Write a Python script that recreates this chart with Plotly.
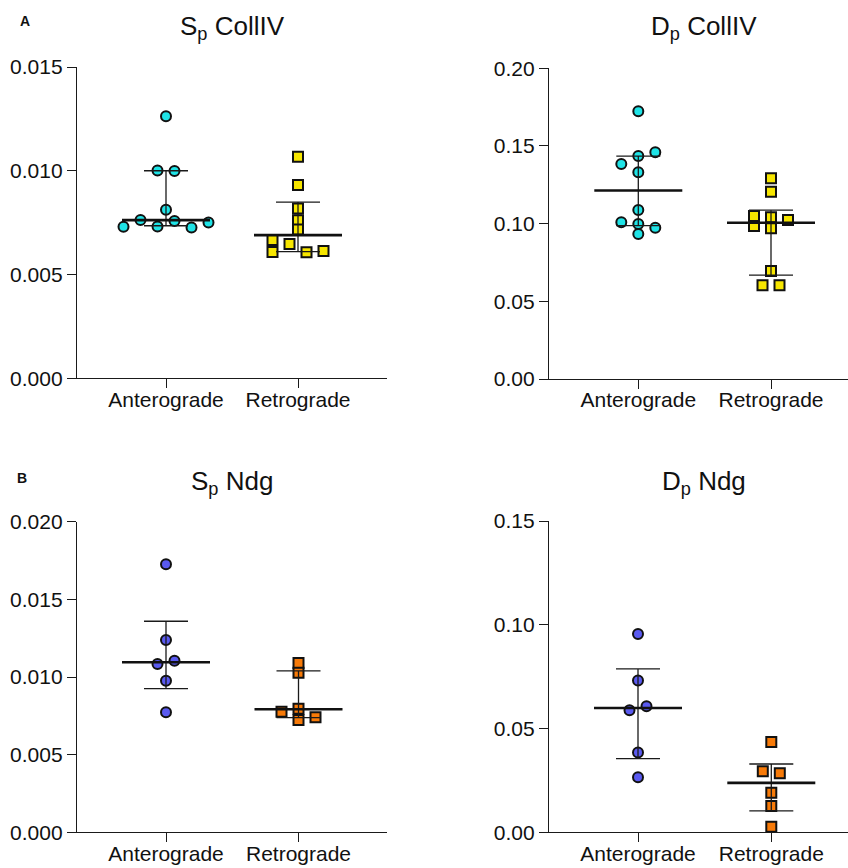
import plotly.graph_objects as go

W, H = 848, 868
FONT = "Liberation Sans, Arial, sans-serif"

# ---------------- data ----------------
categories = ["Anterograde", "Retrograde"]
titles = ["S<sub>p</sub> CollIV", "D<sub>p</sub> CollIV", "S<sub>p</sub> Ndg", "D<sub>p</sub> Ndg"]
panel_letters = ["A", "B"]

sp_coll_ant = [0.01263, 0.00999, 0.01001, 0.00812, 0.00758, 0.00732, 0.00727, 0.00763, 0.00751, 0.00730]
sp_coll_ret = [0.01067, 0.00931, 0.00818, 0.00762, 0.00717, 0.00647, 0.00666, 0.00607, 0.00609, 0.00613]
sp_coll_median = [0.00762, 0.00690]
sp_coll_q1 = [0.00735, 0.00610]
sp_coll_q3 = [0.01000, 0.00849]

dp_coll_ant = [0.1723, 0.1435, 0.1384, 0.1459, 0.1331, 0.1088, 0.0998, 0.1009, 0.0974, 0.0933]
dp_coll_ret = [0.1292, 0.1206, 0.1041, 0.0970, 0.0985, 0.1023, 0.1049, 0.0695, 0.0603, 0.0604]
dp_coll_median = [0.1213, 0.1006]
dp_coll_q1 = [0.0987, 0.0669]
dp_coll_q3 = [0.1435, 0.1087]

sp_ndg_ant = [0.01726, 0.01238, 0.01105, 0.01084, 0.00976, 0.00773]
sp_ndg_ret = [0.01090, 0.01028, 0.00796, 0.00777, 0.00741, 0.00723]
sp_ndg_median = [0.01095, 0.00792]
sp_ndg_q1 = [0.00925, 0.00738]
sp_ndg_q3 = [0.01359, 0.01039]

dp_ndg_ant = [0.0956, 0.0731, 0.0607, 0.0588, 0.0385, 0.0265]
dp_ndg_ret = [0.0435, 0.0284, 0.0294, 0.0191, 0.0127, 0.0027]
dp_ndg_median = [0.0599, 0.0238]
dp_ndg_q1 = [0.0355, 0.0103]
dp_ndg_q3 = [0.0787, 0.0329]

y_max = [0.015, 0.20, 0.020, 0.15]
y_dtick = [0.005, 0.05, 0.005, 0.05]
y_format = [".3f", ".2f", ".3f", ".2f"]

# ---------------- styles / layout ----------------
CYAN = "#1fe3e6"
YELLOW = "#f7e600"
BLUE = "#5a5af0"
ORANGE = "#f77a08"

# pixel geometry of each panel: x0, x1 (axis extent), ytop, ybot, category centres
geom = [
    dict(x0=77, x1=387, ytop=67, ybot=378.3, c0=166, c1=298),
    dict(x0=549, x1=848, ytop=68.3, ybot=379, c0=638.3, c1=771),
    dict(x0=77, x1=387, ytop=521.7, ybot=832.3, c0=166, c1=298.5),
    dict(x0=549, x1=848, ytop=521, ybot=832.3, c0=638, c1=771.3),
]

panels = [
    (sp_coll_ant, sp_coll_ret, sp_coll_median, sp_coll_q1, sp_coll_q3, (CYAN, YELLOW)),
    (dp_coll_ant, dp_coll_ret, dp_coll_median, dp_coll_q1, dp_coll_q3, (CYAN, YELLOW)),
    (sp_ndg_ant, sp_ndg_ret, sp_ndg_median, sp_ndg_q1, sp_ndg_q3, (BLUE, ORANGE)),
    (dp_ndg_ant, dp_ndg_ret, dp_ndg_median, dp_ndg_q1, dp_ndg_q3, (BLUE, ORANGE)),
]

SPACING_PX = 17.0   # horizontal slot spacing of the dot swarm
DY_PX = 8.9         # vertical collision distance


def swarm(values, ypx_per_unit):
    """Column-scatter layout: place points in horizontal slots avoiding overlap,
    then centre each cluster of touching points. Returns offsets in slot units."""
    ys = [v * ypx_per_unit for v in values]
    slots = []
    for i, y in enumerate(ys):
        placed = None
        m = 0
        while placed is None:
            cands = [0] if m == 0 else [-m, m]
            free = []
            for k in cands:
                ok = True
                for j in range(i):
                    if slots[j] == k and abs(ys[j] - y) < DY_PX:
                        ok = False
                        break
                if ok:
                    free.append(k)
            if len(free) == 1:
                placed = free[0]
            elif len(free) == 2:
                left = sum(1 for j in range(i) if slots[j] < 0 and abs(ys[j] - y) < 2 * DY_PX)
                right = sum(1 for j in range(i) if slots[j] > 0 and abs(ys[j] - y) < 2 * DY_PX)
                placed = -m if left <= right else m
            m += 1
        slots.append(float(placed))
    n = len(ys)
    parent = list(range(n))

    def find(a):
        while parent[a] != a:
            parent[a] = parent[parent[a]]
            a = parent[a]
        return a

    for i in range(n):
        for j in range(i + 1, n):
            if abs(ys[i] - ys[j]) < DY_PX:
                parent[find(i)] = find(j)
    comps = {}
    for i in range(n):
        comps.setdefault(find(i), []).append(i)
    for members in comps.values():
        s = [slots[i] for i in members]
        shift = -(min(s) + max(s)) / 2.0
        for i in members:
            slots[i] += shift
    return slots


fig = go.Figure()
layout = dict(
    width=W, height=H,
    margin=dict(l=0, r=0, t=0, b=0, autoexpand=False),
    paper_bgcolor="white", plot_bgcolor="white",
    showlegend=False,
    font=dict(family=FONT, color="#111111"),
)
annotations = []

for p, (g, (ant, ret, med, q1, q3, colors)) in enumerate(zip(geom, panels)):
    sfx = "" if p == 0 else str(p + 1)
    unit = g["c1"] - g["c0"]
    xr0 = -(g["c0"] - g["x0"]) / unit
    xr1 = 1 + (g["x1"] - g["c1"]) / unit
    xpx = unit  # px per x unit
    ypx = (g["ybot"] - g["ytop"]) / y_max[p]

    layout["xaxis" + sfx] = dict(
        domain=[g["x0"] / W, g["x1"] / W], range=[xr0, xr1], anchor="y" + sfx,
        tickmode="array", tickvals=[0, 1], ticktext=categories,
        showline=True, linecolor="#1a1a1a", linewidth=1.3,
        ticks="outside", ticklen=9, tickwidth=1.3, tickcolor="#1a1a1a",
        ticklabelstandoff=-7,
        showgrid=False, zeroline=False, automargin=False,
        tickfont=dict(family=FONT, size=21, color="#111111"),
    )
    layout["yaxis" + sfx] = dict(
        domain=[(H - g["ybot"]) / H, (H - g["ytop"]) / H], range=[0, y_max[p]], anchor="x" + sfx,
        tickmode="linear", tick0=0, dtick=y_dtick[p], tickformat=y_format[p],
        showline=True, linecolor="#1a1a1a", linewidth=1.3,
        ticks="outside", ticklen=9, tickwidth=1.3, tickcolor="#1a1a1a",
        showgrid=False, zeroline=False, automargin=False,
        tickfont=dict(family=FONT, size=21, color="#111111"),
    )

    for ci, (vals, col, sym) in enumerate([(ant, colors[0], "circle"), (ret, colors[1], "square")]):
        offs = swarm(vals, ypx)
        xs = [ci + o * SPACING_PX / xpx for o in offs]
        fig.add_trace(go.Scatter(
            x=xs, y=vals, mode="markers", xaxis="x" + sfx, yaxis="y" + sfx,
            marker=dict(symbol=sym, size=10, color=col, line=dict(color="#111111", width=2)),
            hoverinfo="y",
        ))

    # median + interquartile range
    mh = 44 / xpx
    ch = 22 / xpx
    ex, ey = [], []
    mx, my = [], []
    for ci in range(2):
        mx += [ci - mh, ci + mh, None]
        my += [med[ci], med[ci], None]
        ex += [ci - ch, ci + ch, None, ci - ch, ci + ch, None, ci, ci, None]
        ey += [q3[ci], q3[ci], None, q1[ci], q1[ci], None, q1[ci], q3[ci], None]
    fig.add_trace(go.Scatter(x=ex, y=ey, mode="lines", xaxis="x" + sfx, yaxis="y" + sfx,
                             line=dict(color="#1a1a1a", width=1.3), hoverinfo="skip"))
    fig.add_trace(go.Scatter(x=mx, y=my, mode="lines", xaxis="x" + sfx, yaxis="y" + sfx,
                             line=dict(color="#111111", width=2.6), hoverinfo="skip"))

    cx = (g["x0"] + g["x0"] + 310) / 2
    ty = 27 if p < 2 else 482
    annotations.append(dict(
        text=titles[p], x=cx / W, y=(H - ty) / H, xref="paper", yref="paper",
        xanchor="center", yanchor="middle", showarrow=False,
        font=dict(family=FONT, size=26, color="#111111"),
    ))

annotations.append(dict(text="<b>" + panel_letters[0] + "</b>", x=25 / W, y=(H - 21) / H,
                        xref="paper", yref="paper", xanchor="center", yanchor="middle",
                        showarrow=False, font=dict(family=FONT, size=14, color="#111111")))
annotations.append(dict(text="<b>" + panel_letters[1] + "</b>", x=22 / W, y=(H - 478) / H,
                        xref="paper", yref="paper", xanchor="center", yanchor="middle",
                        showarrow=False, font=dict(family=FONT, size=14, color="#111111")))
layout["annotations"] = annotations

fig.update_layout(**layout)
fig.write_html("out.html")
